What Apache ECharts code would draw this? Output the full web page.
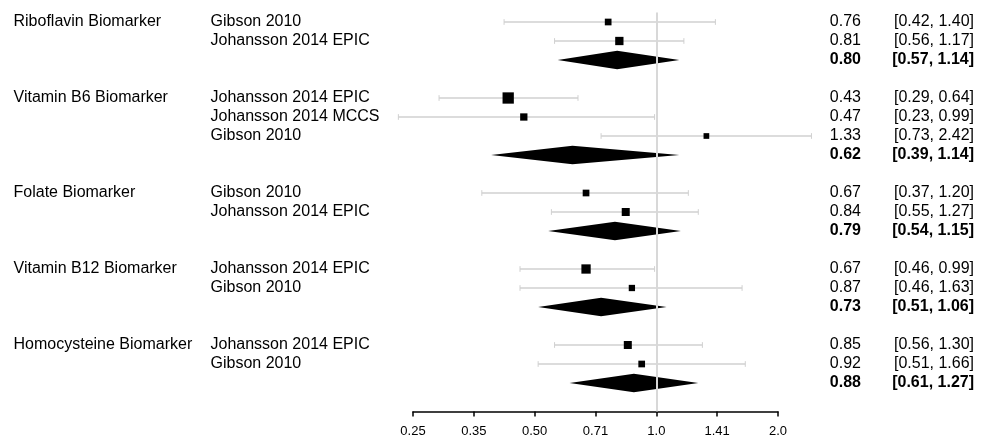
<!DOCTYPE html>
<html>
<head>
<meta charset="utf-8">
<script src="https://cdn.jsdelivr.net/npm/echarts@6/dist/echarts.min.js"></script>
<style>
html,body{margin:0;padding:0;background:#fff;}
#chart{width:988px;height:438px;}
</style>
</head>
<body>
<div id="chart"></div>
<script>
// ---- data ----
const groups = ['Riboflavin Biomarker', 'Vitamin B6 Biomarker', 'Folate Biomarker', 'Vitamin B12 Biomarker', 'Homocysteine Biomarker'];
const studies = [
  ['Gibson 2010', 'Johansson 2014 EPIC'],
  ['Johansson 2014 EPIC', 'Johansson 2014 MCCS', 'Gibson 2010'],
  ['Gibson 2010', 'Johansson 2014 EPIC'],
  ['Johansson 2014 EPIC', 'Gibson 2010'],
  ['Johansson 2014 EPIC', 'Gibson 2010']
];
const studyEst = [[0.76, 0.81], [0.43, 0.47, 1.33], [0.67, 0.84], [0.67, 0.87], [0.85, 0.92]];
const studyLower = [[0.42, 0.56], [0.29, 0.23, 0.73], [0.37, 0.55], [0.46, 0.46], [0.56, 0.51]];
const studyUpper = [[1.40, 1.17], [0.64, 0.99, 2.42], [1.20, 1.27], [0.99, 1.63], [1.30, 1.66]];
const studyWeight = [[6.7, 8.3], [11.3, 7.3, 5.7], [6.7, 8], [9.3, 6.3], [8, 6.7]];
const pooledEst = [0.80, 0.62, 0.79, 0.73, 0.88];
const pooledLower = [0.57, 0.39, 0.54, 0.51, 0.61];
const pooledUpper = [1.14, 1.14, 1.15, 1.06, 1.27];
const tickLabels = ['0.25', '0.35', '0.50', '0.71', '1.0', '1.41', '2.0'];

// ---- build rows ----
const studyRows = [];
const pooledRows = [];
let row = 0;
groups.forEach(function (g, gi) {
  studies[gi].forEach(function (s, si) {
    studyRows.push({
      value: [Math.log2(studyEst[gi][si]), row, Math.log2(studyLower[gi][si]), Math.log2(studyUpper[gi][si])],
      size: studyWeight[gi][si], name: s, group: si === 0 ? g : '',
      est: studyEst[gi][si], lo: studyLower[gi][si], hi: studyUpper[gi][si]
    });
    row++;
  });
  pooledRows.push({
    value: [Math.log2(pooledEst[gi]), row, Math.log2(pooledLower[gi]), Math.log2(pooledUpper[gi])],
    est: pooledEst[gi], lo: pooledLower[gi], hi: pooledUpper[gi]
  });
  row += 2;
});
const nRows = row - 1;

const FONT = '"Liberation Sans", Arial, Helvetica, sans-serif';
const chart = echarts.init(document.getElementById('chart'), null, {renderer: 'canvas'});

function ciItem(params, api) {
  const y = api.value(1);
  const p0 = api.coord([api.value(2), y]);
  const p1 = api.coord([api.value(3), y]);
  const c0 = api.coord([api.value(2), y - 0.15]);
  const c1 = api.coord([api.value(2), y + 0.15]);
  const d0 = api.coord([api.value(3), y - 0.15]);
  const d1 = api.coord([api.value(3), y + 0.15]);
  const col = '#d0d0d0';
  return {
    type: 'group',
    children: [
      {type: 'line', shape: {x1: p0[0], y1: p0[1], x2: p1[0], y2: p1[1]}, style: {stroke: col, lineWidth: 1.5}},
      {type: 'line', shape: {x1: c0[0], y1: c0[1], x2: c1[0], y2: c1[1]}, style: {stroke: col, lineWidth: 1}},
      {type: 'line', shape: {x1: d0[0], y1: d0[1], x2: d1[0], y2: d1[1]}, style: {stroke: col, lineWidth: 1}}
    ]
  };
}

function diamondItem(params, api) {
  const y = api.value(1);
  const e = api.value(0);
  const pts = [
    api.coord([api.value(2), y]),
    api.coord([e, y - 0.49]),
    api.coord([api.value(3), y]),
    api.coord([e, y + 0.49])
  ];
  return {type: 'polygon', shape: {points: pts}, style: {fill: '#000'}};
}

function textItem(isPooled) {
  return function (params, api) {
    const d = isPooled ? pooledRows[params.dataIndex] : studyRows[params.dataIndex];
    const yy = api.coord([0, api.value(1)])[1];
    const w = isPooled ? 'bold' : 'normal';
    const children = [];
    if (!isPooled) {
      children.push({type: 'text', x: 13.5, y: yy, style: {text: d.group, font: '16px ' + FONT, fill: '#000', textAlign: 'left', textVerticalAlign: 'middle'}});
      children.push({type: 'text', x: 210.5, y: yy, style: {text: d.name, font: '16px ' + FONT, fill: '#000', textAlign: 'left', textVerticalAlign: 'middle'}});
    }
    children.push({type: 'text', x: 861, y: yy, style: {text: d.est.toFixed(2), font: w + ' 16px ' + FONT, fill: '#000', textAlign: 'right', textVerticalAlign: 'middle'}});
    children.push({type: 'text', x: 974, y: yy, style: {text: '[' + d.lo.toFixed(2) + ', ' + d.hi.toFixed(2) + ']', font: w + ' 16px ' + FONT, fill: '#000', textAlign: 'right', textVerticalAlign: 'middle'}});
    return {type: 'group', children: children};
  };
}

const option = {
  animation: false,
  backgroundColor: '#fff',
  grid: {left: 413, right: 210, top: 12.5, bottom: 26.5, containLabel: false},
  xAxis: {
    type: 'value', min: -2, max: 1, interval: 0.5,
    axisLine: {show: true, onZero: false, lineStyle: {color: '#000', width: 1.5}},
    axisTick: {show: true, length: 5, lineStyle: {color: '#000', width: 1.5}},
    axisLabel: {
      color: '#000', fontSize: 13, fontFamily: FONT, margin: 13,
      formatter: function (v) { return tickLabels[Math.round((v + 2) * 2)]; }
    },
    splitLine: {show: false}
  },
  yAxis: {
    type: 'value', min: -0.5, max: nRows + 0.5, inverse: true, show: false
  },
  series: [
    {
      type: 'line', data: [], z: 1, silent: true,
      markLine: {
        silent: true, symbol: ['none', 'none'], label: {show: false},
        lineStyle: {color: '#d8d8d8', width: 2, type: 'solid'},
        data: [{xAxis: 0}]
      }
    },
    {type: 'custom', renderItem: ciItem, data: studyRows.map(function (d) { return d.value; }), z: 2, clip: false, silent: true},
    {
      type: 'scatter', symbol: 'rect', z: 3, silent: true,
      data: studyRows.map(function (d) { return {value: [d.value[0], d.value[1]], symbolSize: d.size}; }),
      itemStyle: {color: '#000', opacity: 1}
    },
    {type: 'custom', renderItem: diamondItem, data: pooledRows.map(function (d) { return d.value; }), z: 4, clip: false, silent: true},
    {type: 'custom', renderItem: textItem(false), data: studyRows.map(function (d) { return d.value; }), z: 5, clip: false, silent: true},
    {type: 'custom', renderItem: textItem(true), data: pooledRows.map(function (d) { return d.value; }), z: 5, clip: false, silent: true}
  ]
};
chart.setOption(option);
</script>
</body>
</html>
